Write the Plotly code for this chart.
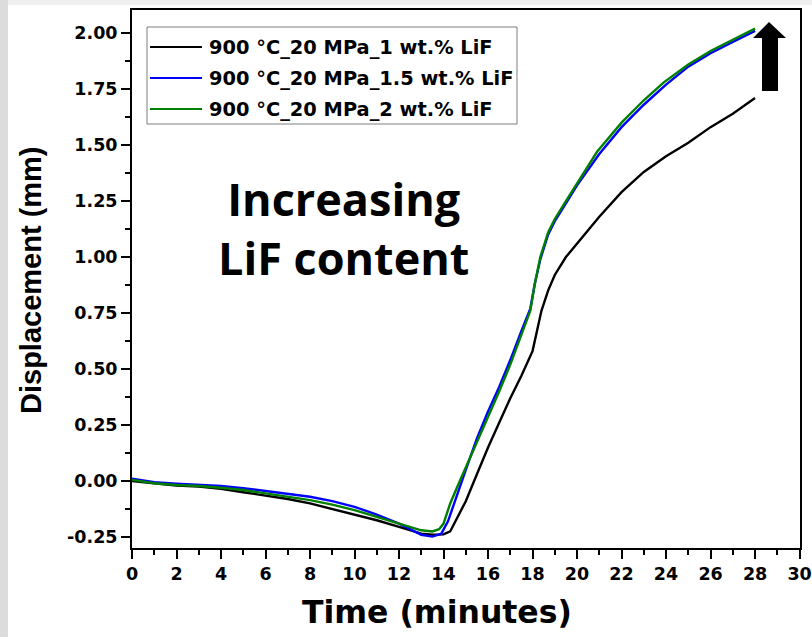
import plotly.graph_objects as go

# Sintering displacement curves (900 °C, 20 MPa) for three LiF additions
time_1wt = [0, 1, 2, 3, 4, 5, 6, 7, 8, 9, 10, 11, 12, 12.5, 13, 13.5, 14, 14.3, 14.6,
            15, 15.5, 16, 16.5, 17, 17.5, 18, 18.2, 18.4, 18.7, 19, 19.5, 20, 21, 22,
            23, 24, 25, 26, 27, 28]
disp_1wt = [0.00, -0.01, -0.02, -0.025, -0.035, -0.05, -0.065, -0.08, -0.10, -0.125,
            -0.15, -0.175, -0.205, -0.22, -0.235, -0.24, -0.238, -0.225, -0.17, -0.09,
            0.03, 0.15, 0.26, 0.37, 0.47, 0.58, 0.67, 0.76, 0.85, 0.92, 1.00, 1.06,
            1.18, 1.29, 1.38, 1.45, 1.51, 1.58, 1.64, 1.71]

time_15wt = [0, 1, 2, 3, 4, 5, 6, 7, 8, 9, 10, 11, 12, 12.5, 13, 13.5, 13.9, 14.2, 14.5,
             15, 15.5, 16, 16.5, 17, 17.5, 17.9, 18.1, 18.35, 18.7, 19, 19.5, 20, 21,
             22, 23, 24, 25, 26, 27, 28]
disp_15wt = [0.01, -0.005, -0.012, -0.018, -0.022, -0.032, -0.045, -0.058, -0.07, -0.09,
             -0.115, -0.15, -0.19, -0.215, -0.24, -0.248, -0.235, -0.18, -0.09, 0.05,
             0.19, 0.31, 0.42, 0.54, 0.67, 0.77, 0.88, 0.99, 1.10, 1.16, 1.24, 1.32,
             1.46, 1.58, 1.68, 1.77, 1.85, 1.91, 1.96, 2.01]

time_2wt = [0, 1, 2, 3, 4, 5, 6, 7, 8, 9, 10, 11, 12, 12.5, 13, 13.5, 13.8, 14.0, 14.3,
            14.6, 15, 15.5, 16, 16.5, 17, 17.5, 17.9, 18.1, 18.35, 18.7, 19, 19.5, 20,
            20.9, 22, 23, 23.9, 25, 26, 27, 28]
disp_2wt = [0.005, -0.01, -0.018, -0.022, -0.03, -0.04, -0.055, -0.07, -0.085, -0.105,
            -0.13, -0.16, -0.19, -0.205, -0.22, -0.225, -0.215, -0.19, -0.10, -0.03,
            0.06, 0.18, 0.29, 0.40, 0.52, 0.65, 0.76, 0.88, 1.00, 1.11, 1.17, 1.25,
            1.33, 1.47, 1.60, 1.70, 1.78, 1.86, 1.92, 1.97, 2.02]

series_names = ["900 °C_20 MPa_1 wt.% LiF",
                "900 °C_20 MPa_1.5 wt.% LiF",
                "900 °C_20 MPa_2 wt.% LiF"]
series_colors = ["#000000", "#0000ff", "#008000"]

x_ticks = list(range(0, 31, 2))
y_ticks = [-0.25, 0.0, 0.25, 0.5, 0.75, 1.0, 1.25, 1.5, 1.75, 2.0]
y_tick_text = [f"{v:.2f}" for v in y_ticks]

W, H = 812, 637
ML, MR, MT, MB = 132, 12, 10, 89
X_RANGE = [0, 30.02]
Y_RANGE = [-0.299, 2.103]

fig = go.Figure()
for xs, ys, name, col in zip([time_1wt, time_15wt, time_2wt],
                             [disp_1wt, disp_15wt, disp_2wt],
                             series_names, series_colors):
    fig.add_trace(go.Scatter(x=xs, y=ys, mode="lines", name=name,
                             line=dict(color=col, width=2.4), showlegend=False))

# helpers converting pixel positions to paper / data coordinates
pw, ph = W - ML - MR, H - MT - MB
def px_x(p):
    return (p - ML) / pw
def px_y(p):
    return 1 - (p - MT) / ph
def dx(p):
    return X_RANGE[0] + (p - ML) / pw * (X_RANGE[1] - X_RANGE[0])
def dy(p):
    return Y_RANGE[1] - (p - MT) / ph * (Y_RANGE[1] - Y_RANGE[0])

shapes = []
# grey page edges
shapes.append(dict(type="rect", xref="paper", yref="paper", layer="below",
                   x0=px_x(0), x1=px_x(8), y0=px_y(H), y1=px_y(0),
                   fillcolor="#dcdcdc", line=dict(width=0)))
shapes.append(dict(type="rect", xref="paper", yref="paper", layer="below",
                   x0=px_x(8), x1=px_x(W), y0=px_y(5), y1=px_y(0),
                   fillcolor="#efefef", line=dict(width=0)))

# legend box
shapes.append(dict(type="rect", xref="x", yref="y",
                   x0=dx(147), x1=dx(517), y0=dy(124), y1=dy(27),
                   fillcolor="white", line=dict(color="#7f7f7f", width=1)))
annotations = []
for i, (name, col) in enumerate(zip(series_names, series_colors)):
    ry = 47 + i * 31
    shapes.append(dict(type="line", xref="x", yref="y",
                       x0=dx(150), x1=dx(202), y0=dy(ry), y1=dy(ry),
                       line=dict(color=col, width=2)))
    annotations.append(dict(x=dx(207), y=dy(ry), xref="x", yref="y",
                            text=name, showarrow=False, xanchor="left", yanchor="middle",
                            font=dict(family="DejaVu Sans", size=19.4, color="black",
                                      weight="bold")))

# block arrow pointing up
tip, hl, hr = (769, 22), 753, 786
sl, sr, hb, bot = 762, 778, 38, 91
arrow_path = (f"M {dx(tip[0])},{dy(tip[1])} L {dx(hr)},{dy(hb)} L {dx(sr)},{dy(hb)} "
              f"L {dx(sr)},{dy(bot)} L {dx(sl)},{dy(bot)} L {dx(sl)},{dy(hb)} "
              f"L {dx(hl)},{dy(hb)} Z")
shapes.append(dict(type="path", xref="x", yref="y", path=arrow_path,
                   fillcolor="black", line=dict(color="black", width=0)))

annotations.append(dict(x=dx(343), y=dy(228), xref="x", yref="y",
                        text="Increasing<br>LiF content", showarrow=False,
                        xanchor="center", yanchor="middle", align="center",
                        font=dict(family="Open Sans", size=45, color="black",
                                  weight="bold")))

# axis titles
annotations.append(dict(x=px_x(437), y=px_y(612), xref="paper", yref="paper",
                        text="Time (minutes)", showarrow=False,
                        xanchor="center", yanchor="middle",
                        font=dict(family="DejaVu Sans", size=31.5, color="black",
                                  weight="bold")))
annotations.append(dict(x=px_x(31), y=px_y(280), xref="paper", yref="paper",
                        text="Displacement (mm)", showarrow=False, textangle=-90,
                        xanchor="center", yanchor="middle",
                        font=dict(family="Liberation Sans", size=29, color="black",
                                  weight="bold")))

tick_font = dict(family="DejaVu Sans", size=17.5, color="black", weight="bold")
axis_common = dict(showline=True, linecolor="black", linewidth=2, mirror=True,
                   ticks="outside", ticklen=9, tickwidth=2, tickcolor="black",
                   showgrid=False, zeroline=False, tickfont=tick_font,
                   ticklabeloverflow="allow", automargin=False)

fig.update_layout(
    width=W, height=H, autosize=False,
    margin=dict(l=ML, r=MR, t=MT, b=MB, autoexpand=False),
    paper_bgcolor="white", plot_bgcolor="white",
    xaxis=dict(range=X_RANGE, tickvals=x_ticks,
               minor=dict(ticks="outside", ticklen=5, tickwidth=2, dtick=1,
                          tickcolor="black"),
               **axis_common),
    yaxis=dict(range=Y_RANGE, tickvals=y_ticks, ticktext=y_tick_text,
               minor=dict(ticks="outside", ticklen=5, tickwidth=2, dtick=0.125,
                          tick0=-0.25, tickcolor="black"),
               **axis_common),
    shapes=shapes, annotations=annotations,
)

fig.write_html("out.html")
